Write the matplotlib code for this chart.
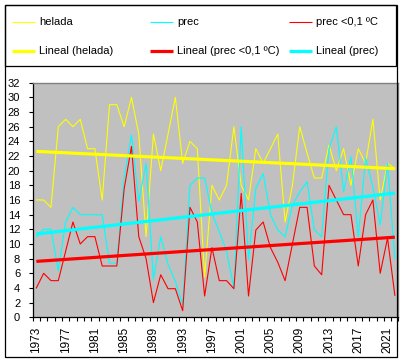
import numpy as np
import matplotlib
matplotlib.use("Agg")
import matplotlib.pyplot as plt
from matplotlib.lines import Line2D
from matplotlib.patches import Rectangle

plt.rcParams['font.family'] = ['Liberation Sans', 'DejaVu Sans']

years = list(range(1973, 2023))
helada = [16, 16, 15, 26, 27, 26, 27, 23, 23, 16,
          29, 29, 26, 30, 25, 11, 25, 20, 25, 30,
          21, 24, 23, 5.5, 18, 16, 18, 26, 18, 16,
          23, 21, 23, 25, 13, 18, 26, 22.4, 19, 19,
          23.5, 20, 23, 18, 23, 21, 27, 16, 21, 20.3]
prec = [11, 12, 12, 6.3, 13, 15, 14, 14, 14, 14,
        7.4, 7.4, 19, 24.9, 15.8, 21, 5.2, 11, 7.2, 4.9,
        1.7, 18, 19, 19, 14.2, 11.7, 9, 4, 26, 7.8,
        17.6, 19.6, 14, 11.9, 11, 15.3, 17.1, 18.5, 11.9, 11,
        23, 26, 17.1, 21.9, 11, 21.7, 17.8, 12.6, 21, 8]
prec01 = [4, 6, 5, 5, 9, 13, 10, 11, 11, 7,
          7, 7, 17.5, 23.3, 11, 8, 2, 5.8, 3.9, 3.9,
          0.9, 15, 13, 2.9, 9.5, 5, 5, 3.9, 16.9, 2.9,
          11.9, 13, 9.5, 7.5, 5, 10, 15, 15, 7, 5.8,
          18, 16, 14, 14, 7, 14, 16, 6, 10.8, 3]
label_years = list(range(1973, 2022, 4))

W, H = 402, 363
fig = plt.figure(figsize=(W / 100, H / 100), dpi=100)

def fx(px):
    return px / W

def fy(py):
    return 1 - py / H

left, right, top, bottom = 32.7, 398.5, 82.7, 317.3
ax = fig.add_axes([fx(left), fy(bottom), fx(right) - fx(left), fy(top) - fy(bottom)])
ax.set_facecolor('#C0C0C0')

x = np.arange(len(years))
YEL, CYA, RED = '#FFFF00', '#00FFFF', '#FF0000'
ax.plot(x, helada, color=YEL, lw=0.8, zorder=2)
ax.plot(x, prec, color=CYA, lw=0.8, zorder=3)
ax.plot(x, prec01, color=RED, lw=0.8, zorder=4)

for series, col, z in [(helada, YEL, 5), (prec01, RED, 6), (prec, CYA, 7)]:
    m, b = np.polyfit(x, series, 1)
    ax.plot(x, m * x + b, color=col, lw=2.3, zorder=z, solid_capstyle='butt')

ax.set_xlim(-0.5, len(years) - 0.5)
ax.set_ylim(0, 32)
ax.set_yticks(np.arange(0, 33, 2))
ax.tick_params(axis='y', direction='out', length=3, width=0.8, pad=6, labelsize=8)
ax.set_xticks(np.arange(-0.5, len(years), 1))
ax.set_xticklabels([])
ax.tick_params(axis='x', which='major', direction='out', length=3, width=0.8)
ax.set_xticks([years.index(y) for y in label_years], minor=True)
ax.set_xticklabels([str(y) for y in label_years], minor=True, rotation=90, fontsize=8.5)
ax.tick_params(axis='x', which='minor', length=0, pad=7)

for s in ['left', 'bottom']:
    ax.spines[s].set_color('black')
    ax.spines[s].set_linewidth(0.9)
for s in ['top', 'right']:
    ax.spines[s].set_color('#808080')
    ax.spines[s].set_linewidth(1.0)

# outer frame and legend box
fig.patches.append(Rectangle((fx(5), fy(357)), fx(397) - fx(5), fy(5) - fy(357),
                             transform=fig.transFigure, fill=False, edgecolor='black', lw=0.9))
fig.patches.append(Rectangle((fx(5), fy(66)), fx(396) - fx(5), fy(5) - fy(66),
                             transform=fig.transFigure, fill=False, edgecolor='black', lw=0.9))

legend_items = [
    ('helada', YEL, 0.8, 12, 22),
    ('prec', CYA, 0.8, 150, 22),
    ('prec <0,1 ºC', RED, 0.8, 289, 22),
    ('Lineal (helada)', YEL, 2.3, 12, 51),
    ('Lineal (prec <0,1 ºC)', RED, 2.3, 150, 51),
    ('Lineal (prec)', CYA, 2.3, 289, 51),
]
for label, col, lw, hx, hy in legend_items:
    fig.add_artist(Line2D([fx(hx), fx(hx + 23)], [fy(hy), fy(hy)], color=col, lw=lw,
                          transform=fig.transFigure, solid_capstyle='butt'))
    fig.text(fx(hx + 27), fy(hy), label, fontsize=8, va='center', ha='left')

fig.savefig('out.png', dpi=100)
